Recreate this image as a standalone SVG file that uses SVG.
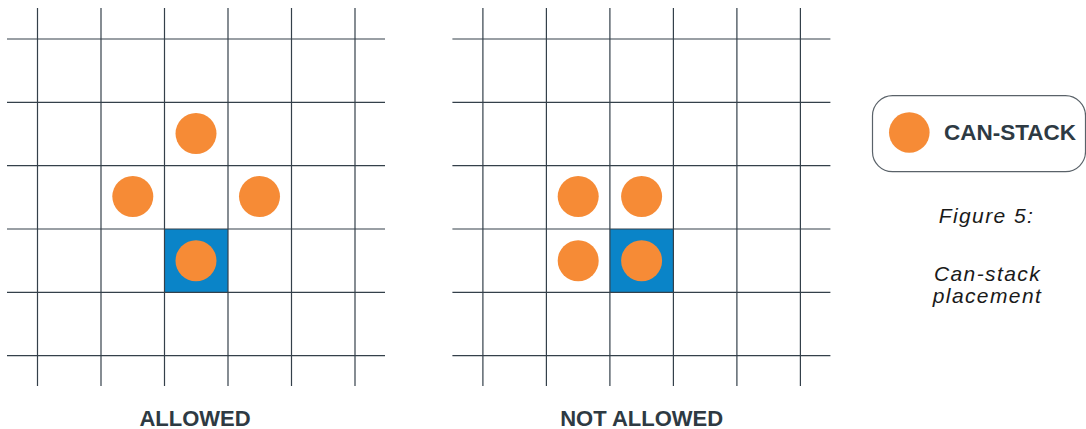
<svg xmlns="http://www.w3.org/2000/svg" width="1086" height="429" viewBox="0 0 1086 429">
<style>
.grid line{stroke:#34404a;stroke-width:1.2}
.can{fill:#F68B36}
.cell{fill:#0A84C8}
.lbl{font-family:"Liberation Sans",Arial,sans-serif;font-weight:bold;font-size:22px;fill:#2E3A43;text-anchor:middle}
.cap{font-family:"Liberation Sans",Arial,sans-serif;font-style:italic;font-size:21px;fill:#1a1a1a;text-anchor:middle;letter-spacing:1.4px}
</style>
<defs>
<g id="gridlines" class="grid">
<line x1="37.5" y1="8" x2="37.5" y2="386"/>
<line x1="101" y1="8" x2="101" y2="386"/>
<line x1="164.5" y1="8" x2="164.5" y2="386"/>
<line x1="228" y1="8" x2="228" y2="386"/>
<line x1="291.5" y1="8" x2="291.5" y2="386"/>
<line x1="355" y1="8" x2="355" y2="386"/>
<line x1="7" y1="39" x2="385" y2="39"/>
<line x1="7" y1="102.3" x2="385" y2="102.3"/>
<line x1="7" y1="165.6" x2="385" y2="165.6"/>
<line x1="7" y1="229" x2="385" y2="229"/>
<line x1="7" y1="292.3" x2="385" y2="292.3"/>
<line x1="7" y1="355.6" x2="385" y2="355.6"/>
</g>
</defs>
<g id="allowed-panel">
<rect class="cell" x="164.5" y="229" width="63.5" height="63.3"/>
<use href="#gridlines"/>
<circle class="can" cx="196" cy="133.5" r="20.5"/>
<circle class="can" cx="132.8" cy="196.5" r="20.5"/>
<circle class="can" cx="259.5" cy="196.5" r="20.5"/>
<circle class="can" cx="196" cy="260.7" r="20.5"/>
<text class="lbl" x="195" y="425.5">ALLOWED</text>
</g>
<g id="not-allowed-panel">
<rect class="cell" x="609.9" y="229" width="63.5" height="63.3"/>
<use href="#gridlines" x="445.4"/>
<circle class="can" cx="578.2" cy="196.5" r="20.5"/>
<circle class="can" cx="641.6" cy="196.5" r="20.5"/>
<circle class="can" cx="578.2" cy="260.7" r="20.5"/>
<circle class="can" cx="641.6" cy="260.7" r="20.5"/>
<text class="lbl" x="641.7" y="425.5">NOT ALLOWED</text>
</g>
<g id="legend">
<rect x="872.5" y="95.7" width="213" height="76" rx="20" ry="20" fill="#fff" stroke="#5A6269" stroke-width="1.2"/>
<circle class="can" cx="909.3" cy="132.5" r="20.3"/>
<text class="lbl" x="1010" y="139.5" style="font-size:22.5px">CAN-STACK</text>
</g>
<g id="caption">
<text class="cap" x="986.5" y="222.7">Figure 5:</text>
<text class="cap" x="987.5" y="281">Can-stack</text>
<text class="cap" x="987.5" y="303">placement</text>
</g>
</svg>
